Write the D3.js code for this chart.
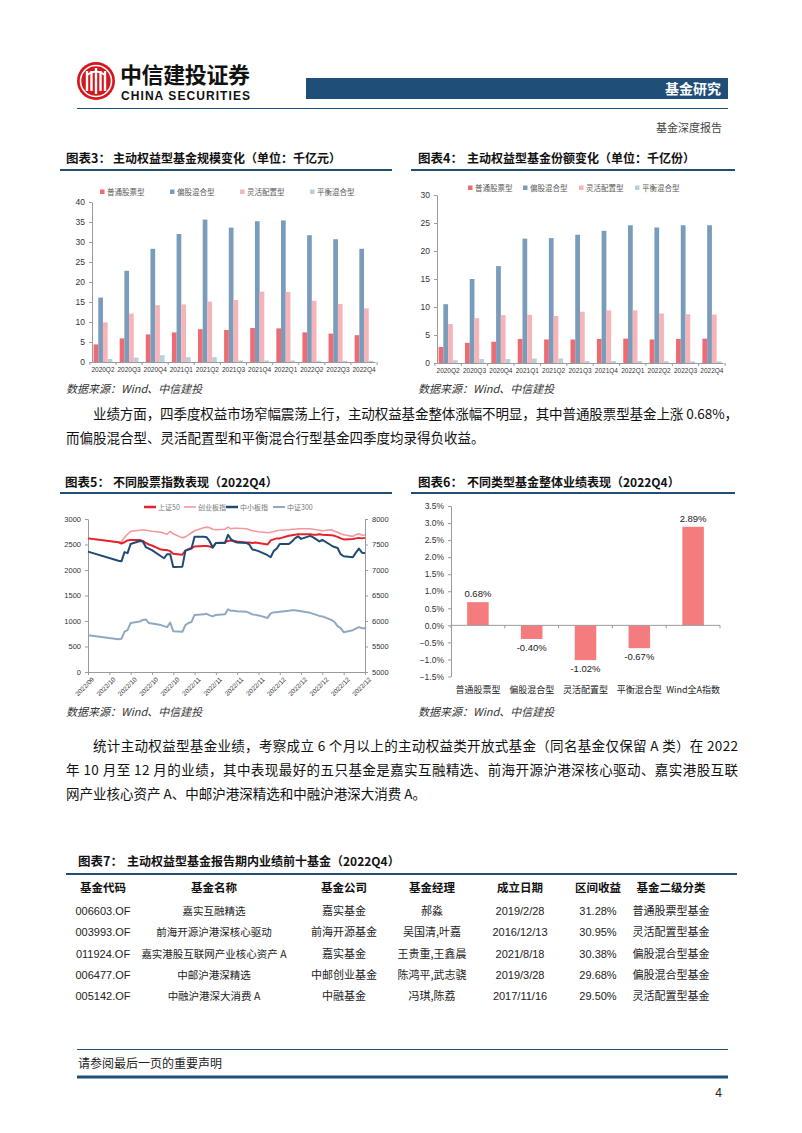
<!DOCTYPE html>
<html>
<head>
<meta charset="utf-8">
<script src="https://cdn.jsdelivr.net/npm/d3@7"></script>
<style>
  body { margin: 0; background: #fff; }
  svg text { font-family: "Noto Sans CJK SC", "Liberation Sans", sans-serif; }
</style>
</head>
<body>
<svg id="page" width="802" height="1133"></svg>
<script>
// ---- data: fund size / share by quarter (chart 3 & 4)
var quarters = ["2020Q2","2020Q3","2020Q4","2021Q1","2021Q2","2021Q3","2021Q4","2022Q1","2022Q2","2022Q3","2022Q4"];
var fundTypes = ["普通股票型","偏股混合型","灵活配置型","平衡混合型"];

var sizeStock = [4.4,5.9,6.9,7.4,8.2,8.0,8.5,8.4,7.4,7.1,6.7];
var sizeMixed = [16.1,22.8,28.3,32.0,35.6,33.6,35.2,35.4,31.7,30.7,28.3];
var sizeFlex  = [9.9,12.1,14.2,14.4,15.1,15.5,17.6,17.5,15.3,14.5,13.4];
var sizeBal   = [0.75,1.1,1.7,1.2,1.2,0.4,0.4,0.4,0.3,0.3,0.3];

var shareStock = [2.85,3.6,3.8,4.3,4.2,4.2,4.3,4.35,4.2,4.3,4.35];
var shareMixed = [10.5,15.0,17.3,22.2,22.3,22.9,23.6,24.6,24.2,24.6,24.6];
var shareFlex  = [6.95,8.0,8.55,8.6,8.4,9.15,9.4,9.4,8.85,8.7,8.65];
var shareBal   = [0.5,0.7,0.7,0.8,0.8,0.35,0.35,0.35,0.3,0.3,0.3];

// ---- data: index performance 2022Q4 (chart 5)
var indexNames = ["上证50","创业板指","中小板指","中证300"];
var tradeDates = ["2022-09-30","2022-10-10","2022-10-11","2022-10-12","2022-10-13","2022-10-14","2022-10-17","2022-10-18","2022-10-19","2022-10-20",
  "2022-10-21","2022-10-24","2022-10-25","2022-10-26","2022-10-27","2022-10-28","2022-10-31","2022-11-01","2022-11-02","2022-11-03",
  "2022-11-04","2022-11-07","2022-11-08","2022-11-09","2022-11-10","2022-11-11","2022-11-14","2022-11-15","2022-11-16","2022-11-17",
  "2022-11-18","2022-11-21","2022-11-22","2022-11-23","2022-11-24","2022-11-25","2022-11-28","2022-11-29","2022-11-30","2022-12-01",
  "2022-12-02","2022-12-05","2022-12-06","2022-12-07","2022-12-08","2022-12-09","2022-12-12","2022-12-13","2022-12-14","2022-12-15",
  "2022-12-16","2022-12-19","2022-12-20","2022-12-21","2022-12-22","2022-12-23","2022-12-26","2022-12-27","2022-12-28","2022-12-29","2022-12-30"];
var sz50 = [2620,2545,2520,2545,2580,2590,2590,2570,2530,2500,
  2480,2400,2390,2390,2370,2320,2300,2380,2410,2430,
  2460,2470,2470,2460,2440,2530,2540,2570,2580,2570,
  2560,2540,2540,2530,2540,2530,2500,2580,2600,2620,
  2620,2670,2680,2690,2700,2700,2700,2690,2690,2700,
  2690,2680,2670,2650,2620,2600,2610,2620,2630,2620,2630];
var cybz = [7620,7545,7560,7640,7700,7760,7780,7790,7780,7770,
  7760,7740,7720,7700,7760,7710,7630,7650,7690,7730,
  7770,7830,7840,7830,7800,7790,7800,7840,7810,7820,
  7820,7810,7790,7770,7760,7750,7730,7740,7750,7770,
  7780,7790,7800,7800,7810,7810,7810,7800,7790,7780,
  7770,7790,7760,7740,7710,7690,7660,7690,7710,7680,7690];
var zxbz = [2360,2180,2170,2350,2330,2510,2570,2560,2450,2420,
  2390,2270,2230,2310,2310,2060,2065,2380,2400,2420,
  2650,2650,2640,2560,2440,2530,2530,2690,2600,2560,
  2540,2530,2500,2400,2390,2370,2290,2250,2370,2420,
  2510,2510,2560,2620,2660,2610,2670,2640,2600,2560,
  2590,2480,2450,2430,2310,2270,2250,2340,2420,2340,2335];
var zz300 = [5720,5640,5650,5790,5820,5960,5990,6020,6030,5960,
  5950,5920,5900,5880,5970,5800,5790,5920,5960,5980,
  6120,6130,6140,6110,6090,6120,6130,6230,6200,6200,
  6190,6180,6160,6130,6120,6110,6060,6150,6170,6170,
  6180,6200,6210,6210,6200,6190,6160,6140,6120,6100,
  6090,6020,5980,5900,5860,5780,5820,5850,5880,5860,5860];
var dateTicks = ["2022-09-30","2022-10-07","2022-10-14","2022-10-21","2022-10-28","2022-11-04","2022-11-11",
  "2022-11-18","2022-11-25","2022-12-02","2022-12-09","2022-12-16","2022-12-23","2022-12-30"];

// ---- data: fund type returns (chart 6)
var perfCats = ["普通股票型","偏股混合型","灵活配置型","平衡混合型","Wind全A指数"];
var perfValues = [0.68,-0.40,-1.02,-0.67,2.89];

// ---- data: top funds table (chart 7)
var tableHeader = ["基金代码","基金名称","基金公司","基金经理","成立日期","区间收益","基金二级分类"];
var tableRows = [
  ["006603.OF","嘉实互融精选","嘉实基金","郝淼","2019/2/28","31.28%","普通股票型基金"],
  ["003993.OF","前海开源沪港深核心驱动","前海开源基金","吴国清,叶嘉","2016/12/13","30.95%","灵活配置型基金"],
  ["011924.OF","嘉实港股互联网产业核心资产 A","嘉实基金","王贵重,王鑫晨","2021/8/18","30.38%","偏股混合型基金"],
  ["006477.OF","中邮沪港深精选","中邮创业基金","陈鸿平,武志骁","2019/3/28","29.68%","偏股混合型基金"],
  ["005142.OF","中融沪港深大消费 A","中融基金","冯琪,陈荔","2017/11/16","29.50%","灵活配置型基金"]
];

var BLUE = "#1F4E79";
var typeColors = ["#EE6B73","#7A9CBB","#F7B4B8","#BCCEDB"];
var axisGray = "#9a9a9a";

var svg = d3.select("#page");
svg.append("rect").attr("width", 802).attr("height", 1133).attr("fill", "#fff");

// ---------------- header
var logo = svg.append("g").attr("transform", "translate(96,81)");
logo.append("circle").attr("r", 19).attr("fill", "#D5161C");
logo.append("circle").attr("r", 15.5).attr("fill", "none").attr("stroke", "#fff").attr("stroke-width", 1.6);
[-9, -4.5, 0, 4.5, 9].forEach(function(dx, i) {
  var h = (i == 2) ? 13 : 10;
  logo.append("rect").attr("x", dx - 1.2).attr("y", -h).attr("width", 2.4).attr("height", 2 * h).attr("fill", "#fff");
});
logo.append("path").attr("d", "M-9,-6 Q0,-13 9,-6").attr("fill", "none").attr("stroke", "#fff").attr("stroke-width", 1.8);

svg.append("text").attr("x", 120).attr("y", 83).attr("font-size", 22).attr("font-weight", 700)
  .attr("fill", "#111").attr("textLength", 130).text("中信建投证券");
svg.append("text").attr("x", 121).attr("y", 100).attr("font-size", 12).attr("font-weight", 700)
  .attr("fill", "#111").attr("textLength", 129).style("font-family", "'Liberation Sans Narrow','Liberation Sans',sans-serif")
  .text("CHINA SECURITIES");

svg.append("rect").attr("x", 306).attr("y", 78).attr("width", 422).attr("height", 21).attr("fill", BLUE);
svg.append("text").attr("x", 721).attr("y", 94).attr("text-anchor", "end").attr("font-size", 14)
  .attr("font-weight", 700).attr("fill", "#fff").text("基金研究");
svg.append("line").attr("x1", 77).attr("x2", 728).attr("y1", 108.5).attr("y2", 108.5)
  .attr("stroke", BLUE).attr("stroke-width", 1.2);
svg.append("text").attr("x", 722).attr("y", 132).attr("text-anchor", "end").attr("font-size", 11)
  .attr("fill", "#444").text("基金深度报告");

// ---------------- helpers
function chartTitle(xLabel, xText, y, label, text, lx0, lx1, ly) {
  svg.append("text").attr("x", xLabel).attr("y", y).attr("font-size", 12.5).attr("font-weight", 700)
    .attr("fill", "#111").text(label);
  svg.append("text").attr("x", xText).attr("y", y).attr("font-size", 12).attr("font-weight", 700)
    .attr("fill", "#111").text(text);
  svg.append("line").attr("x1", lx0).attr("x2", lx1).attr("y1", ly).attr("y2", ly)
    .attr("stroke", BLUE).attr("stroke-width", 2);
}

function sourceNote(x, y) {
  svg.append("text").attr("x", x).attr("y", y).attr("font-size", 11).attr("font-style", "italic")
    .attr("fill", "#333").text("数据来源：Wind、中信建投");
}

function styleAxis(g, fs) {
  g.select(".domain").attr("stroke", axisGray);
  g.selectAll(".tick line").attr("stroke", axisGray);
  g.selectAll(".tick text").attr("fill", "#333").attr("font-size", fs)
    .style("font-family", "'Liberation Sans', Arial, sans-serif");
}

function groupedBars(cfg) {
  var g = svg.append("g");
  var x = d3.scaleBand().domain(quarters).range([cfg.x0, cfg.x1]).paddingInner(0.28).paddingOuter(0.06);
  var xs = d3.scaleBand().domain(d3.range(fundTypes.length)).range([0, x.bandwidth()]);
  var y = d3.scaleLinear().domain([0, cfg.max]).range([cfg.y0, cfg.y1]);

  cfg.series.forEach(function(vals, i) {
    g.selectAll(null).data(vals).enter().append("rect")
      .attr("x", function(d, j) { return x(quarters[j]) + xs(i); })
      .attr("y", function(d) { return y(d); })
      .attr("width", xs.bandwidth())
      .attr("height", function(d) { return y(0) - y(d); })
      .attr("fill", typeColors[i]);
  });

  var ya = g.append("g").attr("transform", "translate(" + cfg.x0 + ",0)")
    .call(d3.axisLeft(y).tickValues(d3.range(0, cfg.max + 0.1, 5)).tickSize(3).tickPadding(4).tickSizeOuter(0));
  styleAxis(ya, 8.5);

  var xa = g.append("g").attr("transform", "translate(0," + cfg.y0 + ")")
    .call(d3.axisBottom(x).tickSize(0).tickPadding(5).tickSizeOuter(0));
  styleAxis(xa, 6.5);
  // category separators like the office chart
  var step = x.step();
  g.selectAll(null).data(quarters.concat(["end"])).enter().append("line")
    .attr("x1", function(d, i) { return cfg.x0 + x.paddingOuter() * step - x.paddingInner() * step / 2 + i * step; })
    .attr("x2", function(d, i) { return cfg.x0 + x.paddingOuter() * step - x.paddingInner() * step / 2 + i * step; })
    .attr("y1", cfg.y0).attr("y2", cfg.y0 + 3).attr("stroke", axisGray);

  // legend
  fundTypes.forEach(function(t, i) {
    var lx = cfg.legendX[i];
    g.append("rect").attr("x", lx).attr("y", cfg.legendY - 2.5).attr("width", 4.5).attr("height", 4.5)
      .attr("fill", typeColors[i]);
    g.append("text").attr("x", lx + 7).attr("y", cfg.legendY + 2.5).attr("font-size", 7.5)
      .attr("fill", "#595959").text(t);
  });
}

// ---------------- chart 3
chartTitle(66, 113, 163, "图表3：", "主动权益型基金规模变化（单位：千亿元）", 60, 392, 170);
groupedBars({ x0: 92, x1: 375, y0: 362, y1: 202, max: 40,
  series: [sizeStock, sizeMixed, sizeFlex, sizeBal],
  legendY: 192, legendX: [100, 170, 240, 310] });
sourceNote(66, 393);

// ---------------- chart 4
chartTitle(418, 467, 163, "图表4：", "主动权益型基金份额变化（单位：千亿份）", 411, 735, 170);
groupedBars({ x0: 437, x1: 723, y0: 363, y1: 195, max: 30,
  series: [shareStock, shareMixed, shareFlex, shareBal],
  legendY: 188, legendX: [468, 523, 579, 635] });
sourceNote(418, 393);

// ---------------- paragraph 1
function bodyLine(x, y, text, width) {
  var t = svg.append("text").attr("x", x).attr("y", y).attr("font-size", 13.5).attr("fill", "#111").text(text);
  if (width) t.attr("textLength", width).attr("lengthAdjust", "spacing");
}
bodyLine(93, 419, "业绩方面，四季度权益市场窄幅震荡上行，主动权益基金整体涨幅不明显，其中普通股票型基金上涨 0.68%，", 645);
bodyLine(66, 443, "而偏股混合型、灵活配置型和平衡混合行型基金四季度均录得负收益。");

// ---------------- chart 5
chartTitle(65, 113, 487, "图表5：", "不同股票指数表现（2022Q4）", 60, 392, 493);
(function() {
  var parse = d3.timeParse("%Y-%m-%d");
  var dates = tradeDates.map(parse);
  var x = d3.scaleTime().domain([parse("2022-09-30"), parse("2022-12-30")]).range([88, 365]);
  var yL = d3.scaleLinear().domain([0, 3000]).range([672, 519]);
  var yR = d3.scaleLinear().domain([5000, 8000]).range([672, 519]);
  var g = svg.append("g");

  var ax = g.append("g").attr("transform", "translate(0,672)")
    .call(d3.axisBottom(x).tickValues(dateTicks.map(parse)).tickFormat(d3.timeFormat("%Y/%m")).tickSize(3).tickSizeOuter(0));
  styleAxis(ax, 6.5);
  ax.selectAll(".tick text").attr("text-anchor", "end").attr("transform", "rotate(-45)")
    .attr("dx", "-0.2em").attr("dy", "0.6em");

  var al = g.append("g").attr("transform", "translate(88,0)")
    .call(d3.axisLeft(yL).tickValues(d3.range(0, 3001, 500)).tickFormat(d3.format("d"))
      .tickSize(3).tickPadding(4).tickSizeOuter(0));
  styleAxis(al, 7.5);
  var ar = g.append("g").attr("transform", "translate(365,0)")
    .call(d3.axisRight(yR).tickValues(d3.range(5000, 8001, 500)).tickFormat(d3.format("d"))
      .tickSize(3).tickPadding(4).tickSizeOuter(0));
  styleAxis(ar, 7.5);

  var series = [
    { name: indexNames[1], vals: cybz, y: yR, color: "#F4989E", w: 1.6 },
    { name: indexNames[0], vals: sz50, y: yL, color: "#E8222B", w: 2 },
    { name: indexNames[2], vals: zxbz, y: yL, color: "#1F4A73", w: 2 },
    { name: indexNames[3], vals: zz300, y: yR, color: "#8FA9C0", w: 2 }
  ];
  series.forEach(function(s) {
    var line = d3.line().x(function(d, i) { return x(dates[i]); }).y(function(d) { return s.y(d); });
    g.append("path").datum(s.vals).attr("d", line).attr("fill", "none")
      .attr("stroke", s.color).attr("stroke-width", s.w).attr("stroke-linejoin", "round");
  });

  var legend = [
    { name: indexNames[0], color: "#E8222B", w: 2.5, x: 144 },
    { name: indexNames[1], color: "#F4989E", w: 1.6, x: 184 },
    { name: indexNames[2], color: "#1F4A73", w: 2.5, x: 226 },
    { name: indexNames[3], color: "#8FA9C0", w: 2, x: 273 }
  ];
  legend.forEach(function(l) {
    g.append("line").attr("x1", l.x).attr("x2", l.x + 12).attr("y1", 507).attr("y2", 507)
      .attr("stroke", l.color).attr("stroke-width", l.w);
    g.append("text").attr("x", l.x + 14).attr("y", 509.5).attr("font-size", 7).attr("fill", "#777").text(l.name);
  });
})();
sourceNote(66, 716);

// ---------------- chart 6
chartTitle(418, 467, 487, "图表6：", "不同类型基金整体业绩表现（2022Q4）", 411, 735, 493);
(function() {
  var g = svg.append("g");
  var x = d3.scaleBand().domain(perfCats).range([451, 720]).paddingInner(0.6).paddingOuter(0.3);
  var y = d3.scaleLinear().domain([-1.5, 3.5]).range([676.5, 506]);

  g.selectAll("rect").data(perfValues).enter().append("rect")
    .attr("x", function(d, i) { return x(perfCats[i]); })
    .attr("y", function(d) { return y(Math.max(0, d)); })
    .attr("width", x.bandwidth())
    .attr("height", function(d) { return Math.abs(y(d) - y(0)); })
    .attr("fill", "#F47C7E");

  var ya = g.append("g").attr("transform", "translate(451,0)")
    .call(d3.axisLeft(y).tickValues(d3.range(-1.5, 3.51, 0.5)).tickFormat(function(d) { return d3.format(".1f")(d) + "%"; })
      .tickSize(3).tickPadding(4).tickSizeOuter(0));
  styleAxis(ya, 8.5);

  g.append("line").attr("x1", 451).attr("x2", 720).attr("y1", y(0)).attr("y2", y(0)).attr("stroke", axisGray);
  var step = x.step();
  d3.range(perfCats.length + 1).forEach(function(i) {
    var bx = 451 + x.paddingOuter() * step - x.paddingInner() * step / 2 + i * step;
    g.append("line").attr("x1", bx).attr("x2", bx).attr("y1", y(0)).attr("y2", y(0) + 3).attr("stroke", axisGray);
  });

  g.selectAll(".cat").data(perfCats).enter().append("text")
    .attr("x", function(d) { return x(d) + x.bandwidth() / 2; })
    .attr("y", 693).attr("text-anchor", "middle").attr("font-size", 9).attr("fill", "#222").text(function(d) { return d; });

  g.selectAll(".lbl").data(perfValues).enter().append("text")
    .attr("x", function(d, i) { return x(perfCats[i]) + x.bandwidth() / 2; })
    .attr("y", function(d) { return d >= 0 ? y(d) - 5 : y(d) + 12; })
    .attr("text-anchor", "middle").attr("font-size", 9.5).attr("fill", "#222")
    .style("font-family", "'Liberation Sans', Arial, sans-serif")
    .text(function(d) { return d.toFixed(2) + "%"; });
})();
sourceNote(418, 716);

// ---------------- paragraph 2
bodyLine(93, 751, "统计主动权益型基金业绩，考察成立 6 个月以上的主动权益类开放式基金（同名基金仅保留 A 类）在 2022", 645);
bodyLine(66, 775, "年 10 月至 12 月的业绩，其中表现最好的五只基金是嘉实互融精选、前海开源沪港深核心驱动、嘉实港股互联", 672);
bodyLine(66, 799, "网产业核心资产 A、中邮沪港深精选和中融沪港深大消费 A。");

// ---------------- table
chartTitle(78, 127, 866, "图表7：", "主动权益型基金报告期内业绩前十基金（2022Q4）", 66, 737, 874);
(function() {
  var colX = [103, 214, 344, 432, 520, 598, 671];
  var g = svg.append("g");
  tableHeader.forEach(function(h, i) {
    g.append("text").attr("x", colX[i]).attr("y", 892).attr("text-anchor", "middle")
      .attr("font-size", 11.5).attr("font-weight", 700).attr("fill", "#111").text(h);
  });
  tableRows.forEach(function(row, r) {
    var y = 915 + r * 21.3;
    row.forEach(function(cell, i) {
      var t = g.append("text").attr("x", colX[i]).attr("y", y).attr("text-anchor", "middle")
        .attr("font-size", i == 1 ? 10.5 : 11).attr("fill", "#222").text(cell);
      if (i == 0 || i == 4 || i == 5) t.style("font-family", "'Liberation Sans', Arial, sans-serif");
    });
  });
})();

// ---------------- footer
svg.append("line").attr("x1", 77).attr("x2", 728).attr("y1", 1049.5).attr("y2", 1049.5).attr("stroke", BLUE).attr("stroke-width", 1);
svg.append("text").attr("x", 78).attr("y", 1068).attr("font-size", 12).attr("fill", "#222").text("请参阅最后一页的重要声明");
svg.append("line").attr("x1", 77).attr("x2", 728).attr("y1", 1077).attr("y2", 1077).attr("stroke", BLUE).attr("stroke-width", 3);
svg.append("text").attr("x", 722).attr("y", 1097).attr("text-anchor", "end").attr("font-size", 12).attr("fill", "#222")
  .style("font-family", "'Liberation Sans', Arial, sans-serif").text("4");
</script>
</body>
</html>
